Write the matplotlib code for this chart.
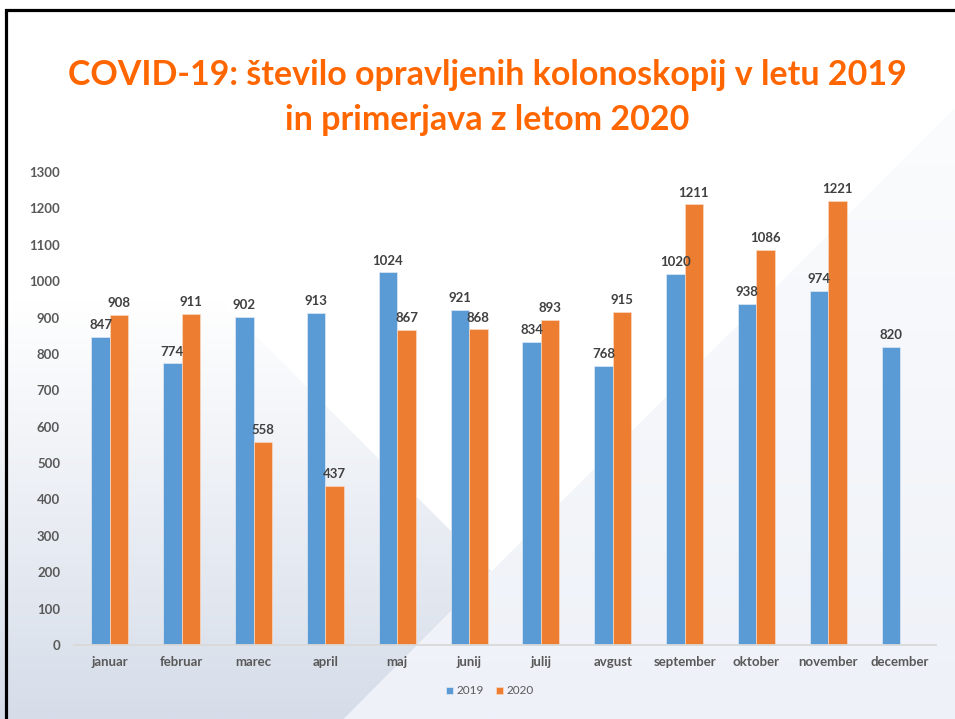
import matplotlib
matplotlib.use('Agg')
import matplotlib.pyplot as plt
import numpy as np
from matplotlib.patches import Polygon
from matplotlib.colors import LinearSegmentedColormap

months = ['januar', 'februar', 'marec', 'april', 'maj', 'junij', 'julij',
          'avgust', 'september', 'oktober', 'november', 'december']
v2019 = [847, 774, 902, 913, 1024, 921, 834, 768, 1020, 938, 974, 820]
v2020 = [908, 911, 558, 437, 867, 868, 893, 915, 1211, 1086, 1221, None]
series_names = ['2019', '2020']
yticks = list(range(0, 1301, 100))
title_lines = ["COVID-19: število opravljenih kolonoskopij v letu 2019",
               "in primerjava z letom 2020"]

BLUE = '#5B9BD5'
ORANGE = '#ED7D31'
TXT = '#595959'
FONT = ['Lato', 'DejaVu Sans']

W, H = 955, 719
fig = plt.figure(figsize=(W / 100, H / 100), dpi=100)
fig.patch.set_facecolor('white')

# ---- background decoration (pixel coordinates) ----
bg = fig.add_axes([0, 0, 1, 1], zorder=-10)
bg.axis('off')


def grad(poly_pts, c_top, c_bot, y0, y1):
    cmap = LinearSegmentedColormap.from_list('g', [c_top, c_bot])
    arr = np.linspace(0, 1, 256).reshape(-1, 1)
    im = bg.imshow(arr, cmap=cmap, extent=(0, W, y1, y0), aspect='auto',
                   origin='upper', interpolation='bilinear')
    poly = Polygon(poly_pts, closed=True, facecolor='none', edgecolor='none')
    bg.add_patch(poly)
    im.set_clip_path(poly)


grad([(0, 80), (491, 571), (344, 719), (0, 719)], '#ffffff', '#d6dde9', 300, 719)
grad([(344, 719), (955, 108), (955, 719)], '#fbfcfd', '#eef1f8', 108, 719)
bg.set_xlim(0, W)
bg.set_ylim(H, 0)

# frame lines
bg.plot([5.5, 5.5, W], [H, 10, 10], color='black', lw=2.3, solid_capstyle='butt',
        solid_joinstyle='miter')

# ---- title ----
fig.text(487 / W, 1 - 85 / H, title_lines[0], ha='center', va='baseline',
         color='#FF6600', fontsize=24.5, fontweight='bold', family=FONT)
fig.text(487 / W, 1 - 130 / H, title_lines[1], ha='center', va='baseline',
         color='#FF6600', fontsize=24.5, fontweight='bold', family=FONT)

# ---- chart ----
ax = fig.add_axes([74 / W, 74 / H, 862 / W, 473 / H])
ax.patch.set_alpha(0)
x = np.arange(len(months))
w = 0.258

ax.bar(x - w / 2, v2019, w, color=BLUE, edgecolor='#dfe9f5', linewidth=0.5,
       label=series_names[0])
idx = [i for i, v in enumerate(v2020) if v is not None]
vals20 = [v2020[i] for i in idx]
ax.bar(np.array(idx) + w / 2, vals20, w, color=ORANGE, edgecolor='#f8d9c4',
       linewidth=0.5, label=series_names[1])

for i, v in enumerate(v2019):
    ax.annotate(str(v), (i - w / 2, v), xytext=(0, 5.5), textcoords='offset points',
                ha='center', va='baseline', fontsize=9.5, fontweight='bold',
                color='#404040', family=FONT)
for i, v in zip(idx, vals20):
    ax.annotate(str(v), (i + w / 2, v), xytext=(0, 5.5), textcoords='offset points',
                ha='center', va='baseline', fontsize=9.5, fontweight='bold',
                color='#404040', family=FONT)

ax.set_xlim(-0.5, len(months) - 0.5)
ax.set_ylim(0, 1300)
ax.set_yticks(yticks)
ax.set_yticklabels([str(t) for t in yticks], fontsize=9.5, fontweight='bold',
                   color=TXT, family=FONT)
ax.set_xticks(x)
ax.set_xticklabels(months, fontsize=9.5, fontweight='bold', color=TXT, family=FONT)
ax.tick_params(axis='y', length=0, pad=10)
ax.tick_params(axis='x', length=0, pad=8)
for s in ['top', 'right', 'left']:
    ax.spines[s].set_visible(False)
ax.spines['bottom'].set_color('#D9D9D9')
ax.spines['bottom'].set_linewidth(1.3)

leg = fig.legend(loc='center', bbox_to_anchor=(490 / W, 1 - 691 / H), ncol=2,
                 frameon=False, handlelength=0.6, handleheight=0.6,
                 handletextpad=0.3, columnspacing=1.0,
                 prop={'family': FONT, 'size': 8.5})
for t in leg.get_texts():
    t.set_color(TXT)

fig.savefig('out.png', dpi=100)
